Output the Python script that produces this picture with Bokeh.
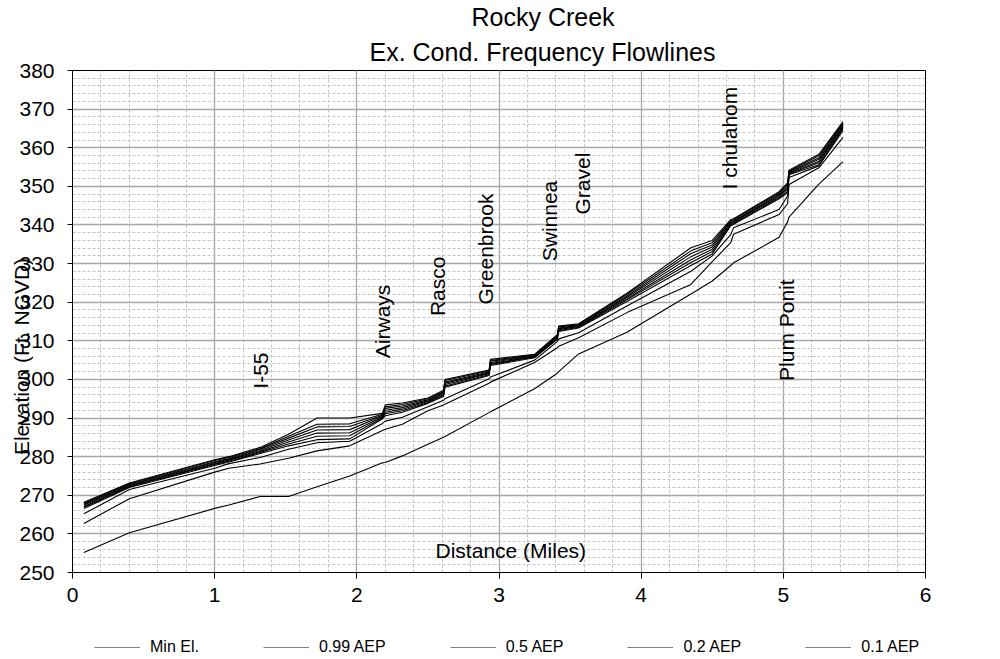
import math
from bokeh.plotting import figure
from bokeh.layouts import column
from bokeh.models import (Range1d, SingleIntervalTicker, FixedTicker, Label, Legend, LegendItem,
                          ColumnDataSource, Title, LinearAxis)
from bokeh.core.properties import value
from bokeh.embed import file_html
from bokeh.resources import INLINE

# ---------------- data ----------------
dist = [0.08, 0.40, 1.00, 1.10, 1.32, 1.52, 1.72, 1.95, 2.18, 2.20, 2.32, 2.50, 2.61, 2.62, 2.93,
        2.94, 3.25, 3.41, 3.42, 3.56, 3.90, 4.35, 4.50, 4.63, 4.65, 4.97, 5.03, 5.04, 5.25, 5.42]

min_el = [255.2, 260.3, 266.6, 267.5, 269.7, 269.7, 272.2, 275.0, 278.4, 278.5, 280.2, 283.2, 285.0, 285.2, 291.4,
          291.6, 297.6, 301.6, 302.0, 306.6, 312.2, 322.1, 325.5, 329.5, 330.2, 336.8, 340.8, 342.0, 350.6, 356.4]
aep_099 = [262.7, 269.1, 276.0, 277.0, 278.1, 279.6, 281.5, 282.8, 286.8, 287.1, 288.4, 291.9, 293.4, 293.6, 299.0,
           299.3, 304.4, 308.2, 308.6, 310.8, 317.3, 324.6, 330.5, 335.4, 337.6, 342.7, 345.5, 350.5, 354.8, 362.7]
aep_05 = [265.2, 271.5, 277.0, 278.2, 279.8, 281.9, 283.6, 284.0, 288.6, 289.2, 290.2, 292.9, 294.6, 295.0, 300.2,
          300.6, 305.0, 309.8, 310.5, 312.1, 319.0, 328.0, 332.0, 337.5, 339.3, 344.0, 347.5, 352.3, 355.3, 364.5]
aep_02 = [266.6, 272.0, 277.7, 278.6, 280.8, 282.8, 284.4, 284.6, 289.8, 290.6, 291.5, 293.8, 295.6, 298.0, 301.0,
          303.6, 305.6, 310.4, 312.4, 313.3, 320.2, 329.5, 332.5, 339.8, 340.2, 346.8, 348.3, 353.0, 355.6, 365.0]
aep_01 = [266.9, 272.2, 278.0, 278.8, 281.1, 283.3, 285.3, 285.4, 290.0, 291.1, 291.9, 294.0, 295.9, 298.3, 301.2,
          303.9, 305.8, 310.6, 312.6, 313.5, 320.6, 330.3, 333.1, 340.1, 340.4, 347.1, 348.7, 353.2, 356.1, 365.3]
aep_004 = [267.1, 272.4, 278.2, 279.1, 281.3, 283.8, 286.1, 286.2, 290.3, 291.5, 292.3, 294.3, 296.1, 298.7, 301.5,
           304.1, 305.9, 310.8, 312.9, 313.7, 320.9, 331.0, 333.7, 340.3, 340.7, 347.4, 349.2, 353.4, 356.5, 365.6]
aep_002 = [267.4, 272.6, 278.5, 279.3, 281.6, 284.3, 286.9, 287.0, 290.5, 292.0, 292.7, 294.5, 296.4, 299.0, 301.7,
           304.4, 306.1, 311.0, 313.1, 313.9, 321.3, 331.8, 334.3, 340.6, 340.9, 347.7, 349.6, 353.6, 357.0, 365.9]
aep_001 = [267.7, 272.8, 278.7, 279.5, 281.9, 284.8, 287.7, 287.8, 290.7, 292.5, 293.1, 294.7, 296.7, 299.3, 301.9,
           304.7, 306.2, 311.2, 313.3, 314.0, 321.6, 332.6, 334.8, 340.9, 341.1, 348.0, 350.0, 353.8, 357.4, 366.2]
aep_0005 = [267.9, 273.0, 279.0, 279.8, 282.1, 285.3, 288.4, 288.5, 291.0, 292.9, 293.5, 295.0, 296.9, 299.7, 302.2,
            304.9, 306.4, 311.4, 313.6, 314.2, 322.0, 333.3, 335.4, 341.1, 341.4, 348.3, 350.5, 354.0, 357.9, 366.5]
aep_0002 = [268.2, 273.2, 279.2, 280.0, 282.4, 285.8, 290.0, 290.0, 291.2, 293.4, 293.9, 295.2, 297.2, 300.0, 302.4,
            305.2, 306.5, 311.6, 313.8, 314.4, 322.3, 334.1, 336.0, 341.4, 341.6, 348.6, 350.9, 354.2, 358.3, 366.8]

series_names = ["Min El.", "0.99 AEP", "0.5 AEP", "0.2 AEP", "0.1 AEP",
                "0.04 AEP", "0.02 AEP", "0.01 AEP", "0.005 AEP", "0.002 AEP"]
series_values = [min_el, aep_099, aep_05, aep_02, aep_01, aep_004, aep_002, aep_001, aep_0005, aep_0002]
legend_names = ["Min El.", "0.99 AEP", "0.5 AEP", "0.2 AEP", "0.1 AEP"]

station_names = ["I-55", "Airways", "Rasco", "Greenbrook", "Swinnea", "Gravel", "I chulahom", "Plum Ponit"]
station_x = [1.32, 2.18, 2.565, 2.905, 3.357, 3.59, 4.62, 5.02]
station_y = [297.6, 305.5, 316.4, 319.4, 330.6, 342.7, 349.2, 299.6]

title_lines = ["Rocky Creek", "Ex. Cond. Frequency Flowlines"]
x_title = "Distance (Miles)"
y_title = "Elevation (Ft. NGVD)"

FONT = "Liberation Sans"

# ---------------- main figure ----------------
p = figure(width=1000, height=625, output_backend="svg", toolbar_location=None,
           x_range=Range1d(0, 6), y_range=Range1d(250, 380),
           min_border_left=72, min_border_right=75, min_border_top=69, min_border_bottom=53)
p.background_fill_color = "white"
p.border_fill_color = "white"
p.outline_line_color = "black"
p.outline_line_width = 1

xaxis = p.xaxis[0]
yaxis = p.yaxis[0]
xaxis.ticker = SingleIntervalTicker(interval=1, num_minor_ticks=5)
yaxis.ticker = SingleIntervalTicker(interval=10, num_minor_ticks=5)
for ax in (xaxis, yaxis):
    ax.axis_line_color = "black"
    ax.major_tick_line_color = "black"
    ax.major_tick_in = 0
    ax.major_tick_out = 6
    ax.minor_tick_line_color = None
    ax.major_label_text_font = FONT
    ax.major_label_text_font_size = "21px"
    ax.major_label_text_color = "black"
yaxis.major_tick_out = 5
yaxis.major_label_standoff = 13
xaxis.major_label_standoff = 9

xg = p.xgrid[0]
yg = p.ygrid[0]
xg.ticker = SingleIntervalTicker(interval=1, num_minor_ticks=5)
yg.ticker = SingleIntervalTicker(interval=10, num_minor_ticks=5)
xg.axis = xaxis
yg.axis = yaxis
xg.bounds = (0, 6)
yg.bounds = (250, 380)
for g in (xg, yg):
    g.grid_line_color = "#a8a8a8"
    g.grid_line_width = 1.3
    g.minor_grid_line_color = "#c4c4c4"
    g.minor_grid_line_dash = "3 2"
    g.minor_grid_line_width = 1

# y-axis title: label-only axis, drawn over the tick labels like the original
ylab_axis = LinearAxis(ticker=FixedTicker(ticks=[]),
                       axis_label=y_title + "\u00a0" * 12, axis_label_standoff=-16,
                       axis_label_text_font=FONT, axis_label_text_font_size="21px",
                       axis_label_text_font_style="normal", axis_label_text_color="black",
                       axis_line_color=None, major_tick_line_color=None, minor_tick_line_color=None,
                       major_label_text_font_size="0px")
p.add_layout(ylab_axis, "left")

for name, vals in zip(series_names, series_values):
    p.line(dist, vals, line_color="black", line_width=1.1)

src = ColumnDataSource(dict(x=station_x, y=station_y, name=station_names))
p.text(x="x", y="y", text="name", source=src, angle=math.pi / 2,
       text_align="left", text_baseline="middle",
       text_font=value(FONT), text_font_size=value("21px"), text_color="black")

p.add_layout(Label(x=3.083, y=255.7, text=x_title, text_align="center",
                   text_baseline="middle", text_font=FONT, text_font_size="21px", text_color="black"))

# two-line title (later-added sits farther from the frame)
p.add_layout(Title(text=title_lines[1], align="left", offset=297, standoff=10,
                   text_font=FONT, text_font_size="25px", text_font_style="normal",
                   text_color="black"), "above")
p.add_layout(Title(text=title_lines[0], align="left", offset=399, standoff=0,
                   text_font=FONT, text_font_size="25px", text_font_style="normal",
                   text_color="black"), "above")

# ---------------- legend strip (series drawn off-view; only the legend shows) ----------------
q = figure(width=1000, height=34, output_backend="svg", toolbar_location=None,
           x_range=Range1d(0, 6), y_range=Range1d(0, 1),
           x_axis_location=None, y_axis_location=None,
           min_border_left=72, min_border_right=75, min_border_top=0, min_border_bottom=0)
q.outline_line_color = None
q.xgrid.visible = False
q.ygrid.visible = False
q.background_fill_color = "white"
q.border_fill_color = "white"

leg_renderers = []
for name in legend_names:
    vals = series_values[series_names.index(name)]
    leg_renderers.append(q.line(dist, vals, line_color="#808080", line_width=1))
items = [LegendItem(label=n, renderers=[r]) for n, r in zip(legend_names, leg_renderers)]
legend = Legend(items=items, orientation="horizontal", location=(22, 2),
                spacing=64, glyph_width=46, glyph_height=20, label_standoff=10, label_height=20,
                padding=0, margin=0, border_line_color=None, background_fill_alpha=0,
                label_text_font=FONT, label_text_font_size="16px", label_text_color="black")
q.add_layout(legend)

open("out.html", "w").write(file_html(column(p, q, spacing=0), INLINE))
